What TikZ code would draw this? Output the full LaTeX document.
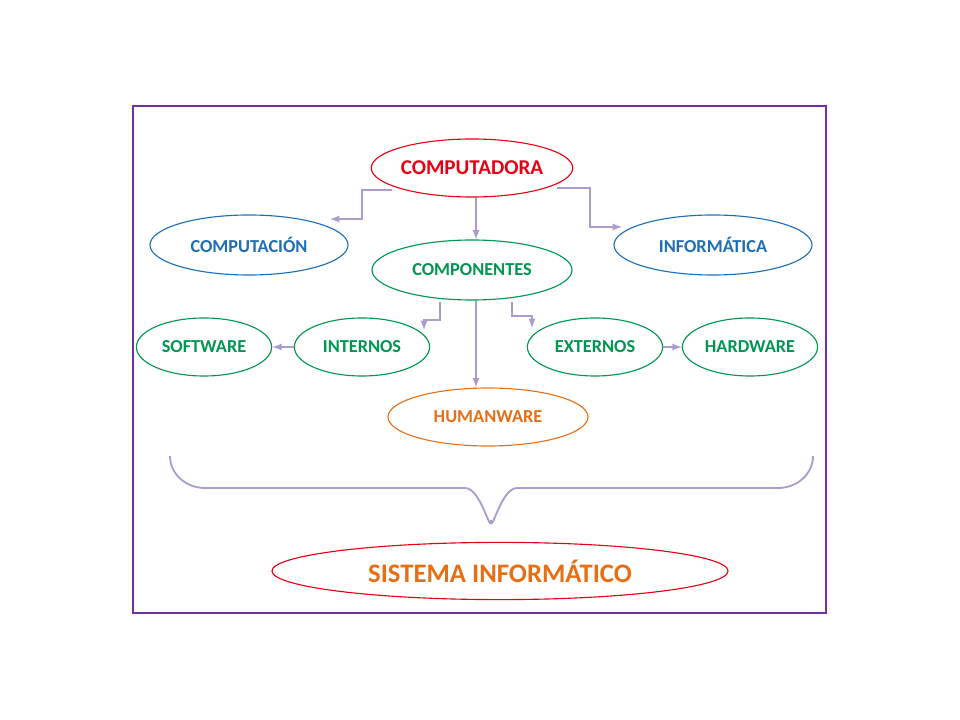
\documentclass[tikz,border=0pt]{standalone}
\usepackage{fontspec}
\setmainfont{Carlito}
\usetikzlibrary{shapes.geometric}
\definecolor{lineclr}{RGB}{172,156,204}
\definecolor{frameclr}{RGB}{112,48,160}
\definecolor{redclr}{RGB}{230,0,20}
\definecolor{blueclr}{RGB}{30,110,180}
\definecolor{greenclr}{RGB}{0,150,80}
\definecolor{orangeclr}{RGB}{230,110,20}
\tikzset{
  oval/.style={ellipse, draw, line width=0.8pt, inner sep=0pt, font=\bfseries\fontsize{13}{15}\selectfont},
  bigoval/.style={oval, minimum width=5cm, minimum height=1.5cm},
  smalloval/.style={oval, minimum width=3.38cm, minimum height=1.45cm},
  conn/.style={draw=lineclr, line width=1.3pt, -latex},
}
\begin{document}
\begin{tikzpicture}[x=0.025cm,y=-0.025cm]
\useasboundingbox (0,0) rectangle (960,720);
\draw[frameclr, line width=1.2pt] (133,106) rectangle (826,613);

\node[bigoval, draw=redclr, text=redclr, minimum height=1.45cm,
  font=\bfseries\fontsize{15}{17}\selectfont] (ctd) at (472,168) {COMPUTADORA};
\node[bigoval, draw=blueclr, text=blueclr, minimum width=4.95cm] (cpt) at (249,245) {COMPUTACIÓN};
\node[bigoval, draw=blueclr, text=blueclr, minimum width=4.95cm] (inf) at (713,245) {INFORMÁTICA};
\node[bigoval, draw=greenclr, text=greenclr] (cmp) at (472,270) {COMPONENTES};
\node[smalloval, draw=greenclr, text=greenclr] (sw) at (204,347) {SOFTWARE};
\node[smalloval, draw=greenclr, text=greenclr] (int) at (362,347) {INTERNOS};
\node[smalloval, draw=greenclr, text=greenclr] (ext) at (595,347) {EXTERNOS};
\node[smalloval, draw=greenclr, text=greenclr] (hw) at (750,347) {HARDWARE};
\node[bigoval, draw=orangeclr, text=orangeclr, minimum height=1.45cm] (hum) at (488,417) {HUMANWARE};
\node[oval, draw=redclr, text=orangeclr, minimum width=11.4cm, minimum height=1.43cm,
  font=\bfseries\fontsize{19}{22}\selectfont] (sis) at (500,571) {SISTEMA INFORMÁTICO};

% connector ends
\coordinate (ctdl) at (392,190);
\coordinate (ctdr) at (557,188);
\coordinate (cptr) at (330,219);
\coordinate (infl) at (622,227);
\coordinate (cmpl) at (440,302);
\coordinate (cmpr) at (512,302);
\coordinate (intt) at (424,330);
\coordinate (extt) at (532,328);

% connectors
\draw[conn] (ctdl) -- ++(-30,0) |- (cptr);
\draw[conn] (ctdr) -- ++(33,0) |- (infl);
\draw[conn] (ctd.south) ++(4,0) coordinate (ctdb) -- (ctdb |- cmp.north);
\draw[conn] (cmpl) |- ++(-16,18) -- (intt);
\draw[conn] (cmpr) |- ++(20,14) -- (extt);
\draw[conn] (cmp.south) ++(4,0) coordinate (cmpb) -- (cmpb |- hum.north);
\draw[conn] (int.west) -- (sw.east);
\draw[conn] (ext.east) -- (hw.west);

% brace
\draw[lineclr, line width=1.3pt] (170,456) to[out=-90,in=180] (205,488) -- (465,488)
  to[out=0,in=-90] (491,520) to[out=-90,in=180] (517,488) -- (778,488) to[out=0,in=-90] (813,456);
\end{tikzpicture}
\end{document}
